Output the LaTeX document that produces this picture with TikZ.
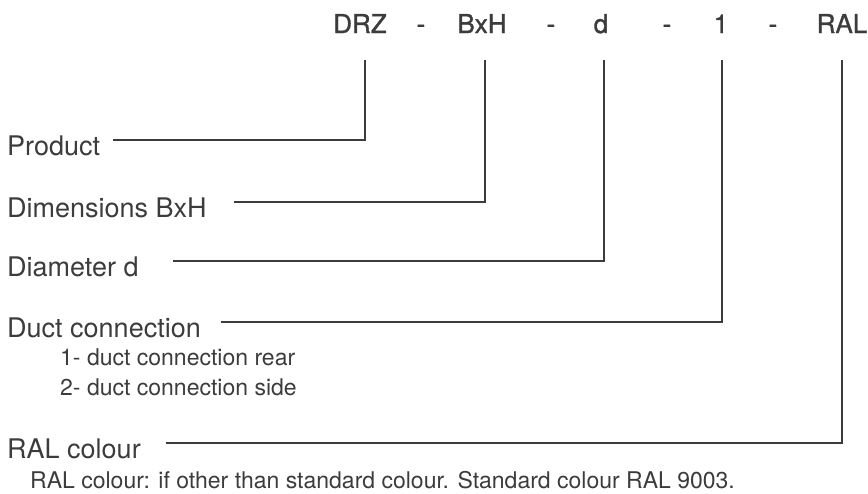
\documentclass[tikz,border=0pt]{standalone}
\usepackage{fontspec}
\setmainfont{TeX Gyre Heros}
\newfontfamily\codefont[FakeBold=1.2]{TeX Gyre Heros}
\usepackage{tikz}
\usetikzlibrary{calc}
\definecolor{ink}{HTML}{3C3C3C}

\begin{document}
\begin{tikzpicture}[x=1pt,y=-1pt]
\tikzstyle{every node}=[inner sep=0pt,text=ink]
\tikzstyle{code}=[font=\fontsize{26}{30}\codefont,anchor=base]
\tikzstyle{lbl}=[font=\fontsize{27}{32}\selectfont,anchor=base west]
\tikzstyle{sub}=[font=\fontsize{23}{27}\selectfont,anchor=base west]
\tikzstyle{conn}=[draw=ink,line width=1.8pt]
\useasboundingbox (0,0) rectangle (868,493);
% type code
\node[code] (drz) at (360,33) {DRZ};
\node[code] (dash1) at (421,33) {-};
\node[code] (bxh) at (482,33) {BxH};
\node[code] (dash2) at (551,33) {-};
\node[code] (dia) at (601,33) {d};
\node[code] (dash3) at (667,33) {-};
\node[code] (duct) at (721,33) {1};
\node[code] (dash4) at (773,33) {-};
\node[code] (ral) at (842,33) {RAL};
% legend
\node[lbl] (prod) at (7,155) {Product};
\node[lbl] (dims) at (7,217) {Dimensions BxH};
\node[lbl] (diam) at (7,276) {Diameter d};
\node[lbl] (conn) at (7,337) {Duct connection};
\node[sub] (rear) at (60,365) {1- duct connection rear};
\node[sub] (side) at (60,395) {2- duct connection side};
\node[lbl] (col) at (7,458) {RAL colour};
\node[sub] (note) at (30,488) {RAL colour: if other than standard colour. Standard colour RAL 9003.};
% feet of the leaders under the code
\coordinate (drzFoot) at (365,60);
\coordinate (bxhFoot) at (485,60);
\coordinate (diaFoot) at (604,60);
\coordinate (ductFoot) at (722,60);
\coordinate (ralFoot) at (842,60);
% leaders
\draw[conn] ([xshift=13pt,yshift=5pt]prod.east) -| (drzFoot);
\draw[conn] ([xshift=27pt,yshift=5pt]dims.east) -| (bxhFoot);
\draw[conn] ([xshift=34pt,yshift=5pt]diam.east) -| (diaFoot);
\draw[conn] ([xshift=20pt,yshift=5pt]conn.east) -| (ductFoot);
\draw[conn] ([xshift=25pt,yshift=5pt]col.east) -| (ralFoot);
\end{tikzpicture}
\end{document}
